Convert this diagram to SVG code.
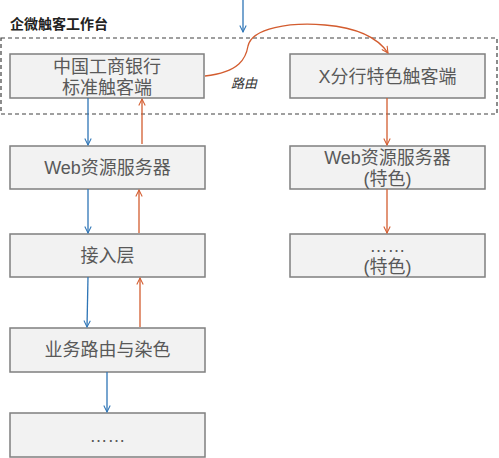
<svg xmlns="http://www.w3.org/2000/svg" width="499" height="458" viewBox="0 0 499 458">
<style>
.n rect{fill:#f2f2f2;stroke:#7f7f7f;stroke-width:1.5}
.n text{font-family:"Liberation Sans","Noto Sans CJK SC",sans-serif;font-size:18px;fill:#595959;text-anchor:middle}
.b{stroke:#2e75b6;stroke-width:1.3;fill:none;marker-end:url(#ab)}
.o{stroke:#d35c2f;stroke-width:1.3;fill:none;marker-end:url(#ao)}
</style>
<defs>
<marker id="ab" viewBox="0 0 10 10" refX="9" refY="5" markerWidth="8" markerHeight="8" markerUnits="userSpaceOnUse" orient="auto"><path d="M1,1 L9,5 L1,9" fill="none" stroke="#2e75b6" stroke-width="1.3"/></marker>
<marker id="ao" viewBox="0 0 10 10" refX="9" refY="5" markerWidth="8" markerHeight="8" markerUnits="userSpaceOnUse" orient="auto"><path d="M1,1 L9,5 L1,9" fill="none" stroke="#d35c2f" stroke-width="1.3"/></marker>
</defs>
<rect x="1" y="38" width="496" height="76" fill="none" stroke="#404040" stroke-width="1.2" stroke-dasharray="4,3"/>
<text x="10" y="29" font-family="Liberation Sans,'Noto Sans CJK SC',sans-serif" font-size="14" font-weight="bold" fill="#222">企微触客工作台</text>
<g id="n1" class="n"><rect x="10" y="54" width="194" height="44"/><text x="107" y="73">中国工商银行</text><text x="107" y="94">标准触客端</text></g>
<g id="n2" class="n"><rect x="290" y="54" width="195" height="44"/><text x="387.5" y="83">X分行特色触客端</text></g>
<g id="n3" class="n"><rect x="10" y="146" width="195" height="43"/><text x="107.5" y="174">Web资源服务器</text></g>
<g id="n4" class="n"><rect x="10" y="234" width="195" height="43"/><text x="107.5" y="262">接入层</text></g>
<g id="n5" class="n"><rect x="10" y="328" width="195" height="44"/><text x="107.5" y="356">业务路由与染色</text></g>
<g id="n6" class="n"><rect x="10" y="413" width="195" height="44"/><text x="107.5" y="442">……</text></g>
<g id="n7" class="n"><rect x="290" y="146" width="195" height="43"/><text x="387.5" y="164">Web资源服务器</text><text x="387.5" y="185">(特色)</text></g>
<g id="n8" class="n"><rect x="290" y="234" width="195" height="43"/><text x="387.5" y="252">……</text><text x="387.5" y="273">(特色)</text></g>
<g id="connectors">
<path class="b" d="M243,0 L243,32"/>
<path class="b" d="M88,98 L88,145"/>
<path class="b" d="M88,189 L88,233"/>
<path class="b" d="M88,277 L87,327"/>
<path class="b" d="M107,372 L107,412"/>
<path class="o" d="M142,144 L142,99"/>
<path class="o" d="M139,233 L139,190"/>
<path class="o" d="M140,327 L140,278"/>
<path class="o" d="M387,98 L387,145"/>
<path class="o" d="M387,189 L387,233"/>
<path class="o" d="M205,76 C240,72 246,58 248,46 C252,28 290,22 325,25 C360,28 378,38 388,53"/>
<text x="231" y="88" font-family="Liberation Sans,'Noto Sans CJK SC',sans-serif" font-size="13" font-style="italic" fill="#333">路由</text>
</g>
</svg>
